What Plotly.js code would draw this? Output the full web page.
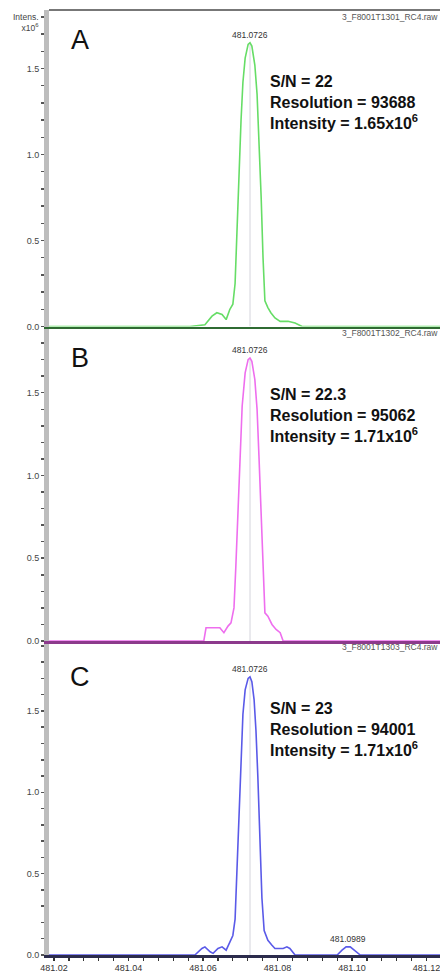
<!DOCTYPE html>
<html>
<head>
<meta charset="utf-8">
<script src="https://cdn.plot.ly/plotly-3.0.1.min.js"></script>
<style>
html,body{margin:0;padding:0;background:#fff;}
#chart{width:440px;height:973px;}
</style>
</head>
<body>
<div id="chart"></div>
<script>
// ---- data (m/z, intensity x10^6) ----
const mzA = [481.0150, 481.0565, 481.0605, 481.0624, 481.0637, 481.0651, 481.0662, 481.0672, 481.0680, 481.0686, 481.0691, 481.0696, 481.0702, 481.0707, 481.0713, 481.0721, 481.0726, 481.0731, 481.0739, 481.0745, 481.0750, 481.0756, 481.0761, 481.0766, 481.0774, 481.0782, 481.0793, 481.0807, 481.0828, 481.0847, 481.0866, 481.1300];
const intA = [0, 0, 0.01, 0.06, 0.08, 0.07, 0.04, 0.10, 0.13, 0.25, 0.55, 0.90, 1.20, 1.42, 1.56, 1.64, 1.65, 1.63, 1.52, 1.35, 1.10, 0.75, 0.40, 0.15, 0.11, 0.08, 0.05, 0.03, 0.03, 0.02, 0, 0];

const mzB = [481.0150, 481.0565, 481.0602, 481.0608, 481.0624, 481.0645, 481.0656, 481.0667, 481.0675, 481.0683, 481.0688, 481.0694, 481.0699, 481.0705, 481.0713, 481.0721, 481.0726, 481.0731, 481.0739, 481.0745, 481.0750, 481.0756, 481.0761, 481.0766, 481.0774, 481.0785, 481.0796, 481.0807, 481.0815, 481.0887, 481.1300];
const intB = [0, 0, 0, 0.08, 0.08, 0.08, 0.05, 0.09, 0.11, 0.20, 0.45, 0.80, 1.15, 1.42, 1.62, 1.70, 1.71, 1.69, 1.58, 1.40, 1.12, 0.75, 0.40, 0.17, 0.15, 0.10, 0.07, 0.05, 0, 0, 0];

const mzC = [481.0150, 481.0565, 481.0578, 481.0597, 481.0605, 481.0619, 481.0627, 481.0640, 481.0651, 481.0662, 481.0672, 481.0680, 481.0686, 481.0691, 481.0696, 481.0702, 481.0707, 481.0713, 481.0721, 481.0726, 481.0731, 481.0737, 481.0742, 481.0747, 481.0753, 481.0758, 481.0764, 481.0774, 481.0785, 481.0793, 481.0807, 481.0815, 481.0825, 481.0833, 481.0847, 481.0960, 481.0973, 481.0984, 481.0995, 481.1005, 481.1022, 481.1300];
const intC = [0, 0, 0, 0.04, 0.05, 0.02, 0.01, 0.04, 0.05, 0.03, 0.08, 0.12, 0.22, 0.50, 0.88, 1.22, 1.48, 1.63, 1.70, 1.71, 1.68, 1.57, 1.38, 1.10, 0.72, 0.35, 0.15, 0.09, 0.06, 0.04, 0.04, 0.04, 0.05, 0.04, 0, 0, 0.03, 0.05, 0.05, 0.03, 0, 0];

const peakMz = [481.0726, 481.0726, 481.0726];
const peakInt = [1.65, 1.71, 1.71];
const peakLabels = ["481.0726", "481.0726", "481.0726"];
const minorPeakMz = 481.0989;
const minorPeakInt = 0.05;
const minorPeakLabel = "481.0989";

const panelLetters = ["A", "B", "C"];
const snValues = ["22", "22.3", "23"];
const resolutions = ["93688", "95062", "94001"];
const intensities = ["1.65", "1.71", "1.71"];
const fileNames = ["3_F8001T1301_RC4.raw", "3_F8001T1302_RC4.raw", "3_F8001T1303_RC4.raw"];

const xTickVals = [481.02, 481.04, 481.06, 481.08, 481.10, 481.12];
const yTickVals = [0, 0.5, 1.0, 1.5];

// ---- layout helpers (pixel positions) ----
const W = 440, H = 973, ML = 49, MT = 10, MB = 18;
const plotH = H - MT - MB, plotW = W - ML;
const py = p => (H - MB - p) / plotH;
const pxx = p => (p - ML) / plotW;

const colors = ["#66dd66", "#ee6eee", "#5a5ae8"];
const baseColors = ["#2f6b32", "#8c3a8c", "#2c2c4c"];
const yAxisNames = ["y3", "y2", "y"];
const xAxisNames = ["x3", "x2", "x"];
const mzs = [mzA, mzB, mzC];
const ints = [intA, intB, intC];

const traces = [];
for (let i = 0; i < 3; i++) {
  traces.push({
    x: [peakMz[i], peakMz[i]], y: [0, peakInt[i]],
    xaxis: xAxisNames[i], yaxis: yAxisNames[i],
    type: "scatter", mode: "lines",
    line: {color: "#d4d4dc", width: 1}, hoverinfo: "skip"
  });
  traces.push({
    x: mzs[i], y: ints[i],
    xaxis: xAxisNames[i], yaxis: yAxisNames[i],
    type: "scatter", mode: "lines",
    line: {color: colors[i], width: 1.6}
  });
}

const xRange = [481.01865, 481.1236];
const domains = [[py(326.5), 1], [py(641), py(326.5)], [0, py(641)]];
const yRanges = [[0, 1.84], [0, 1.90], [0, 1.93]];

function yax(i) {
  return {
    domain: domains[i], range: yRanges[i],
    showline: true, linecolor: "#bdbdbd", linewidth: 5,
    ticks: "outside", ticklen: 3, tickwidth: 1.5, tickcolor: "#555",
    tickvals: yTickVals, tickformat: ".1f",
    minor: {dtick: 0.1, ticks: "outside", ticklen: 3, tickwidth: 1.5, tickcolor: "#555"},
    showgrid: false, zeroline: false, fixedrange: true,
    tickfont: {family: "Arial, Liberation Sans, sans-serif", size: 9, color: "#444"}
  };
}
function xax(i, anchor, bottom) {
  const a = {
    range: xRange, anchor: anchor,
    showline: true, linecolor: baseColors[i], linewidth: 2.5,
    showgrid: false, zeroline: false, fixedrange: true
  };
  if (bottom) {
    Object.assign(a, {
      ticks: "outside", ticklen: 3, tickwidth: 1.2, tickcolor: "#333",
      tickvals: xTickVals, tickformat: ".2f", ticklabeloverflow: "allow",
      minor: {dtick: 0.004, ticks: "outside", ticklen: 3, tickwidth: 1.2, tickcolor: "#333"},
      tickfont: {family: "Arial, Liberation Sans, sans-serif", size: 9, color: "#333"}
    });
  } else {
    Object.assign(a, {showticklabels: false, ticks: ""});
  }
  return a;
}

const annotations = [];
const letterY = [40, 358, 677];
const textTopY = [71, 384, 698];
const fileY = [17, 333, 647];
for (let i = 0; i < 3; i++) {
  annotations.push({
    xref: xAxisNames[i], yref: yAxisNames[i],
    x: peakMz[i], y: peakInt[i], text: peakLabels[i],
    showarrow: false, yanchor: "bottom", yshift: 1,
    font: {family: "Arial, Liberation Sans, sans-serif", size: 8.5, color: "#333"}
  });
  annotations.push({
    xref: "paper", yref: "paper", x: pxx(80), y: py(letterY[i]),
    text: panelLetters[i], showarrow: false, xanchor: "center", yanchor: "middle",
    font: {family: "Arial, Liberation Sans, sans-serif", size: 27, color: "#111"}
  });
  annotations.push({
    xref: "paper", yref: "paper", x: pxx(268), y: py(textTopY[i]),
    xanchor: "left", yanchor: "top", align: "left", showarrow: false,
    text: "<b>S/N = " + snValues[i] + "<br>Resolution = " + resolutions[i] +
          "<br>Intensity = " + intensities[i] + "x10<sup>6</sup></b>",
    font: {family: "Arial, Liberation Sans, sans-serif", size: 16, color: "#111"}
  });
  annotations.push({
    xref: "paper", yref: "paper", x: 1, y: py(fileY[i]),
    xanchor: "right", yanchor: "middle", showarrow: false,
    text: fileNames[i],
    font: {family: "Arial, Liberation Sans, sans-serif", size: 8.5, color: "#555"}
  });
}
annotations.push({
  xref: "x", yref: "y", x: minorPeakMz, y: minorPeakInt, text: minorPeakLabel,
  showarrow: false, yanchor: "bottom", yshift: 1,
  font: {family: "Arial, Liberation Sans, sans-serif", size: 8.5, color: "#333"}
});
annotations.push({
  xref: "paper", yref: "paper", x: 0, xshift: -8, y: 1, yshift: 0,
  xanchor: "right", yanchor: "top", align: "right", showarrow: false,
  text: "Intens.<br>x10<sup>6</sup>",
  font: {family: "Arial, Liberation Sans, sans-serif", size: 8.5, color: "#444"}
});

const layout = {
  width: W, height: H,
  margin: {l: ML, r: 0, t: MT, b: MB, pad: 0},
  paper_bgcolor: "#fff", plot_bgcolor: "#fff",
  showlegend: false,
  xaxis: xax(2, "y", true),
  xaxis2: xax(1, "y2", false),
  xaxis3: xax(0, "y3", false),
  yaxis: yax(2),
  yaxis2: yax(1),
  yaxis3: yax(0),
  annotations: annotations,
  shapes: [{type: "line", xref: "paper", yref: "paper", x0: 0, x1: 1, y0: 1, y1: 1,
            line: {color: "#777", width: 2}}]
};

Plotly.newPlot("chart", traces, layout, {displayModeBar: false, staticPlot: true});
</script>
</body>
</html>
